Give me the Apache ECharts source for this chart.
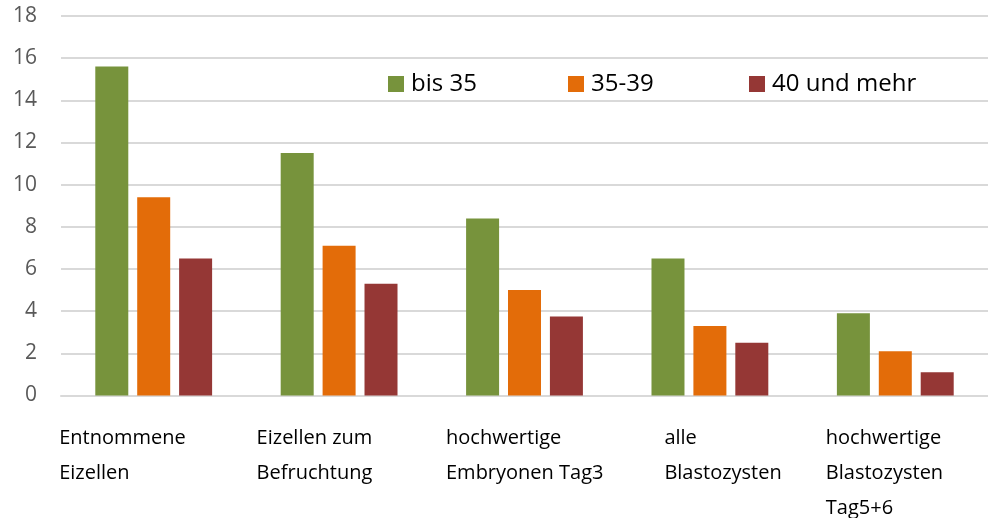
<!DOCTYPE html>
<html>
<head>
<meta charset="utf-8">
<script src="https://cdn.jsdelivr.net/npm/echarts@6/dist/echarts.min.js"></script>
<style>
  html, body { margin: 0; padding: 0; background: #fff; overflow: hidden; }
  #chart { width: 988px; height: 518px; }
</style>
</head>
<body>
<div id="chart"></div>
<script>
// Kategorien (mit Zeilenumbruch wie im Original)
const categories = [
  'Entnommene\nEizellen',
  'Eizellen zum\nBefruchtung',
  'hochwertige\nEmbryonen Tag3',
  'alle\nBlastozysten',
  'hochwertige\nBlastozysten\nTag5+6'
]
const seriesNames = ['bis 35', '35-39', '40 und mehr']
const bis35 = [15.6, 11.5, 8.4, 6.5, 3.9]
const von35bis39 = [9.4, 7.1, 5.0, 3.3, 2.1]
const ab40 = [6.5, 5.3, 3.75, 2.5, 1.1]
const yTicks = [0, 2, 4, 6, 8, 10, 12, 14, 16, 18]

const colors = ['#77933C', '#E36C09', '#953735']
// Breite des Label-Blocks je Kategorie (Text links buendig)
const labelWidths = [189, 165, 157, 91, 139]
// linke Kante der Legenden-Eintraege
const legendLeft = [383, 563, 744]

const chart = echarts.init(document.getElementById('chart'))

const rich = {}
labelWidths.forEach((w, i) => {
  rich['c' + i] = {
    width: w,
    align: 'left',
    fontFamily: 'Open Sans',
    fontSize: 20,
    lineHeight: 35,
    color: '#000'
  }
})

const legends = seriesNames.map((name, i) => ({
  left: legendLeft[i],
  top: 67,
  itemWidth: 16,
  itemHeight: 16,
  icon: 'rect',
  textStyle: {
    fontFamily: 'Open Sans',
    fontSize: 24,
    color: '#000',
    padding: [0, 0, 0, 2]
  },
  data: [name]
}))

const option = {
  animation: false,
  color: colors,
  legend: legends,
  grid: {
    left: 61,
    width: 935,
    top: 16,
    height: 387
  },
  xAxis: {
    type: 'category',
    data: categories,
    axisTick: { show: false },
    axisLine: { lineStyle: { color: '#d9d9d9', width: 2 } },
    axisLabel: {
      interval: 0,
      margin: 25,
      align: 'center',
      formatter: (value, idx) => {
        return value.split('\n').map(l => '{c' + idx + '|' + l + '}').join('\n')
      },
      rich: rich
    }
  },
  yAxis: {
    type: 'value',
    min: yTicks[0],
    max: yTicks[yTicks.length - 1],
    interval: 2,
    axisLine: { show: false },
    axisTick: { show: false },
    splitLine: { lineStyle: { color: '#d9d9d9', width: 2 } },
    axisLabel: {
      margin: 24,
      fontFamily: 'Open Sans',
      fontSize: 21,
      color: '#595959'
    }
  },
  series: [
    { name: seriesNames[0], type: 'bar', data: bis35, barWidth: 33, barGap: '27%' },
    { name: seriesNames[1], type: 'bar', data: von35bis39, barWidth: 33, barGap: '27%' },
    { name: seriesNames[2], type: 'bar', data: ab40, barWidth: 33, barGap: '27%' }
  ]
}

chart.setOption(option)
</script>
</body>
</html>
